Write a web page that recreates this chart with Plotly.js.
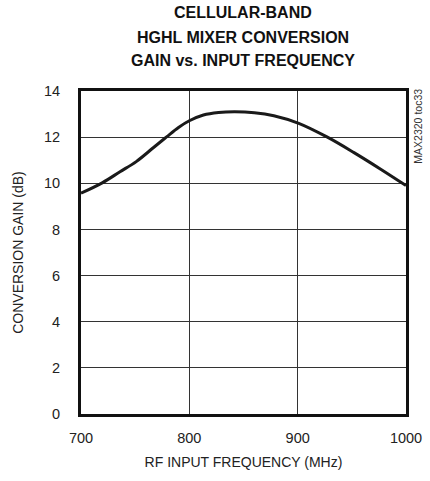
<!DOCTYPE html>
<html>
<head>
<meta charset="utf-8">
<script src="https://cdn.plot.ly/plotly-3.0.1.min.js"></script>
<style>html,body{margin:0;padding:0;background:#fff;}#chart{width:430px;height:481px;}</style>
</head>
<body>
<div id="chart"></div>
<script>
const freqMHz = [700,720,736,751,767,779,790,800,813,827,842,860,878,901,927,952,977,1000];
const gainDb  = [9.57,10.03,10.5,10.94,11.55,12.01,12.42,12.71,12.96,13.07,13.1,13.06,12.93,12.6,12.01,11.33,10.6,9.9];
const xTicks = [700,800,900,1000];
const yTicks = [0,2,4,6,8,10,12,14];
const titleLines = ["CELLULAR-BAND", "HGHL MIXER CONVERSION", "GAIN vs. INPUT FREQUENCY"];
const xTitle = "RF INPUT FREQUENCY (MHz)";
const yTitle = "CONVERSION GAIN (dB)";
const noteText = "MAX2320 toc33";

const fontFam = "Liberation Sans, Arial, sans-serif";

const trace = {
  x: freqMHz, y: gainDb, mode: 'lines', type: 'scatter',
  line: {color: '#1a1a1a', width: 3, shape: 'spline', smoothing: 1},
  hoverinfo: 'none', showlegend: false
};

const titleY = [1.2415, 1.167, 1.0929];
const annotations = titleLines.map((t, i) => ({
  text: '<b>' + t + '</b>', xref: 'paper', yref: 'paper', x: 0.498, y: titleY[i],
  xanchor: 'center', yanchor: 'middle', showarrow: false,
  font: {family: fontFam, size: 16, color: '#111'}
}));
annotations.push({
  text: noteText, xref: 'paper', yref: 'paper', x: 1.037, y: 1.012,
  xanchor: 'center', yanchor: 'top', textangle: -90, showarrow: false,
  font: {family: fontFam, size: 10.5, color: '#333'}
});

const layout = {
  width: 430, height: 481,
  margin: {l: 81, r: 24, t: 91, b: 67, pad: 0},
  paper_bgcolor: '#fff', plot_bgcolor: '#fff',
  font: {family: fontFam, color: '#222', size: 14},
  xaxis: {
    range: [700, 1000], tickvals: xTicks, ticktext: xTicks.map(String),
    showgrid: true, gridcolor: '#333', gridwidth: 1,
    showline: true, linecolor: '#111', linewidth: 3, mirror: true,
    ticks: '', zeroline: false, ticklabelstandoff: 9,
    tickfont: {family: fontFam, size: 14.5, color: '#222'},
    title: {text: xTitle, font: {family: fontFam, size: 14, color: '#222'}, standoff: 12}
  },
  yaxis: {
    range: [0, 14], tickvals: yTicks, ticktext: yTicks.map(String),
    showgrid: true, gridcolor: '#333', gridwidth: 1,
    showline: true, linecolor: '#111', linewidth: 3, mirror: true,
    ticks: '', zeroline: false, ticklabelstandoff: 15,
    tickfont: {family: fontFam, size: 14.5, color: '#222'},
    title: {text: yTitle, font: {family: fontFam, size: 14, color: '#222'}, standoff: 18}
  },
  annotations: annotations
};

Plotly.newPlot('chart', [trace], layout, {staticPlot: true, displayModeBar: false});
</script>
</body>
</html>
